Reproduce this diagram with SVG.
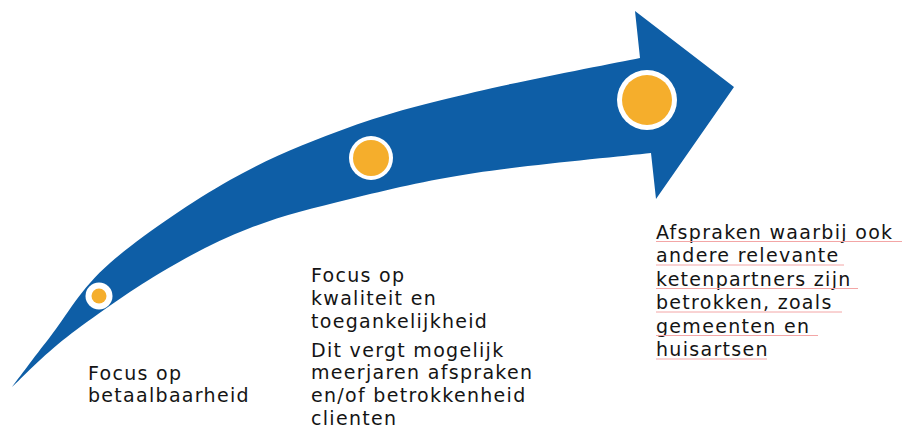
<svg xmlns="http://www.w3.org/2000/svg" width="902" height="432" viewBox="0 0 902 432">
<style>
.arrow{fill:#0E5EA6}
.ring{fill:#FFFFFF}
.dot{fill:#F5AE2C}
.lbl{font-family:"DejaVu Sans","Verdana",sans-serif;font-size:19px;letter-spacing:1.3px;fill:#141414}
.sp{stroke:#F3A6A6;stroke-width:1;fill:none}
</style>
<g id="connectors">
<path class="arrow" d="M12,387 C18.3,378.7 33.7,357.7 50,337 C66.3,316.3 80,289.2 110,263 C140,236.8 190,202.7 230,180 C270,157.3 309.2,141.7 350,127 C390.8,112.3 426.7,103.5 475,92 C523.3,80.5 612.5,63.7 640,58 L635,11 L734,87 L656,199 L651,153 C621.7,156.3 525.2,165.3 475,173 C424.8,180.7 387.5,189.8 350,199 C312.5,208.2 281.7,215.7 250,228 C218.3,240.3 190.5,254.8 160,273 C129.5,291.2 91.7,318 67,337 C42.3,356 21.2,378.7 12,387 Z"/>
</g>
<g id="milestone1">
<circle class="ring" cx="99" cy="296" r="13.5"/>
<circle class="dot" cx="99" cy="296" r="7.5"/>
<text class="lbl" x="88" y="380">Focus op</text>
<text class="lbl" x="88" y="402">betaalbaarheid</text>
</g>
<g id="milestone2">
<circle class="ring" cx="371" cy="158" r="22"/>
<circle class="dot" cx="371" cy="158" r="18"/>
<text class="lbl" x="311" y="282">Focus op</text>
<text class="lbl" x="311" y="304.5">kwaliteit en</text>
<text class="lbl" x="311" y="327.5">toegankelijkheid</text>
<text class="lbl" x="311" y="356.5">Dit vergt mogelijk</text>
<text class="lbl" x="311" y="379">meerjaren afspraken</text>
<text class="lbl" x="311" y="402">en/of betrokkenheid</text>
<text class="lbl" x="311" y="425">clienten</text>
</g>
<g id="milestone3">
<circle class="ring" cx="647" cy="100" r="30"/>
<circle class="dot" cx="647" cy="100" r="25"/>
<text class="lbl" x="656" y="238.5">Afspraken waarbij ook</text>
<text class="lbl" x="656" y="262">andere relevante</text>
<text class="lbl" x="656" y="285.5">ketenpartners zijn</text>
<text class="lbl" x="656" y="309">betrokken, zoals</text>
<text class="lbl" x="656" y="332.5">gemeenten en</text>
<text class="lbl" x="656" y="356">huisartsen</text>
<path class="sp" d="M656,241.5 H902 M656,265 H844 M656,288.5 H858 M656,312 H842 M656,335.5 H818 M656,359 H767"/>
</g>
</svg>
